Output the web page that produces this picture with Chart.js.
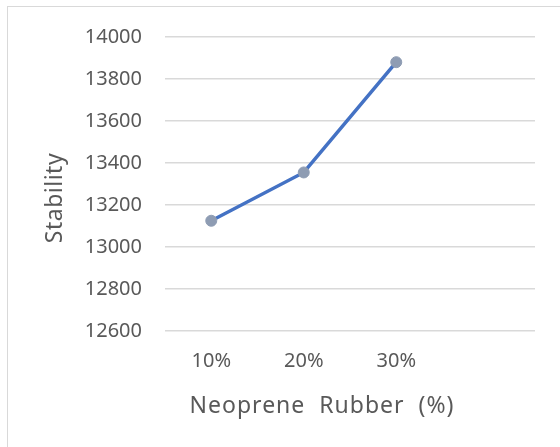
<!DOCTYPE html>
<html>
<head>
<meta charset="utf-8">
<script src="https://cdn.jsdelivr.net/npm/chart.js@4/dist/chart.umd.min.js"></script>
<style>
  html, body { margin: 0; padding: 0; background: #ffffff; }
  #wrap { position: relative; width: 560px; height: 447px; overflow: hidden; }
  #frame { position: absolute; left: 7px; top: 6px; width: 600px; height: 500px; border: 1px solid #d9d9d9; box-sizing: border-box; }
  #c { position: absolute; left: 0; top: 0; }
</style>
</head>
<body>
<div id="wrap">
  <div id="frame"></div>
  <canvas id="c" width="560" height="447"></canvas>
</div>
<script>
const categories = ['10%', '20%', '30%', ''];
const stability = [13125, 13355, 13880, null];
const yTicks = [12600, 12800, 13000, 13200, 13400, 13600, 13800, 14000];
const xTitle = 'Neoprene  Rubber  (%)';
const yTitle = 'Stability';

const FONT = "'Noto Sans', 'Open Sans', sans-serif";
const TEXT = '#595959';

const axisTitles = {
  id: 'axisTitles',
  afterDraw(chart) {
    const ctx = chart.ctx;
    ctx.save();
    ctx.fillStyle = TEXT;
    ctx.font = "23px " + FONT;
    ctx.textAlign = 'center';
    ctx.textBaseline = 'middle';
    ctx.letterSpacing = '1px';
    ctx.fillText(xTitle, 322, 406);
    ctx.letterSpacing = '0.5px';
    ctx.translate(55, 198);
    ctx.rotate(-Math.PI / 2);
    ctx.fillText(yTitle, 0, 0);
    ctx.restore();
  }
};

new Chart(document.getElementById('c'), {
  type: 'line',
  data: {
    labels: categories,
    datasets: [{
      label: yTitle,
      data: stability,
      borderColor: '#4472c4',
      borderWidth: 3.5,
      pointRadius: 5.5,
      pointHoverRadius: 5.5,
      pointBackgroundColor: '#8e9cb3',
      pointBorderColor: '#8e9cb3',
      pointBorderWidth: 1,
      tension: 0,
      fill: false
    }]
  },
  options: {
    responsive: false,
    animation: false,
    devicePixelRatio: 1,
    layout: { padding: { left: 0, right: 25, top: 37, bottom: 0 } },
    plugins: {
      legend: { display: false },
      tooltip: { enabled: false },
      title: { display: false }
    },
    scales: {
      x: {
        type: 'category',
        offset: true,
        grid: { display: false, drawTicks: false },
        border: { display: false },
        ticks: {
          color: TEXT,
          font: { family: FONT, size: 20 },
          padding: 18,
          maxRotation: 0,
          autoSkip: false
        },
        afterFit(scale) { scale.height = 116; }
      },
      y: {
        min: yTicks[0],
        max: yTicks[yTicks.length - 1],
        afterBuildTicks(scale) { scale.ticks = yTicks.map(v => ({ value: v })); },
        grid: { color: '#d9d9d9', lineWidth: 1.5, drawTicks: false },
        border: { display: false },
        ticks: {
          color: TEXT,
          font: { family: FONT, size: 20 },
          padding: 23,
          callback: v => String(v)
        },
        afterFit(scale) { scale.width = 165; }
      }
    }
  },
  plugins: [axisTitles]
});
</script>
</body>
</html>
